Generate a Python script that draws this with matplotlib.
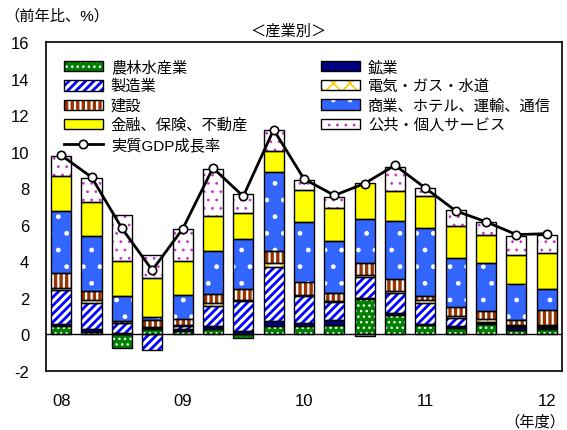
import matplotlib
matplotlib.use("Agg")
import matplotlib.pyplot as plt
import matplotlib.patches as mpatches
import matplotlib.lines as mlines
import numpy as np

plt.rcParams['font.family'] = ['Liberation Sans', 'Noto Sans CJK JP', 'DejaVu Sans']

# 四半期ごとの寄与度（08年度～12年度）
quarters = np.arange(17)
year_ticks = [0, 4, 8, 12, 16]
year_labels = ["08", "09", "10", "11", "12"]

agri    = [0.45, 0.10, -0.75, 0.30, 0.15, 0.30, -0.20, 0.45, 0.45, 0.50, 1.90, 1.05, 0.50, 0.35, 0.55, 0.20, 0.30]
mining  = [0.12, 0.15, 0.08, 0.05, 0.15, 0.15, 0.15, 0.25, 0.18, 0.25, 0.07, 0.08, 0.07, 0.08, 0.08, 0.20, 0.08]
manuf   = [1.85, 1.45, 0.50, -0.85, 0.12, 1.10, 1.65, 3.00, 1.45, 1.00, 1.15, 1.12, 1.13, 0.47, 0.05, 0.03, 0.05]
utility = [0.10, 0.15, 0.05, 0.05, 0.05, 0.15, 0.07, 0.20, 0.05, 0.05, 0.10, 0.12, 0.15, 0.10, 0.15, 0.05, 0.05]
constr  = [0.85, 0.50, 0.10, 0.38, 0.35, 0.50, 0.60, 0.63, 0.70, 0.45, 0.67, 0.64, 0.25, 0.50, 0.45, 0.30, 0.86]
trade   = [3.40, 3.00, 1.35, 0.18, 1.30, 2.33, 2.72, 4.37, 3.33, 2.86, 2.41, 3.18, 3.73, 2.64, 2.61, 1.95, 1.14]
finance = [1.90, 1.90, 1.90, 2.10, 1.90, 1.92, 1.46, 1.13, 1.73, 1.78, 2.00, 1.64, 1.74, 1.77, 1.54, 1.60, 1.95]
public  = [1.10, 1.30, 2.55, 1.25, 1.72, 2.60, 1.00, 1.15, 0.55, 0.64, -0.10, 1.31, 0.41, 0.87, 0.73, 1.04, 1.00]
gdp     = [9.80, 8.60, 5.80, 3.50, 5.75, 9.10, 7.55, 11.20, 8.50, 7.60, 8.25, 9.25, 8.00, 6.75, 6.15, 5.45, 5.50]

# 系列: (名称, 値, 塗り色, ハッチ, ハッチ色, ハッチ線幅)
series = [
    ("農林水産業", agri, "#008000", "...", "white", 1.0),
    ("鉱業", mining, "#000080", None, "#000080", 1.0),
    ("製造業", manuf, "white", "////", "#0000FF", 2.0),
    ("電気・ガス・水道", utility, "white", "xx", "#FFCC00", 1.2),
    ("建設", constr, "#993300", "|||", "white", 1.6),
    ("商業、ホテル、運輸、通信", trade, "#3366FF", ".", "white", 1.0),
    ("金融、保険、不動産", finance, "#FFFF00", None, "#FFFF00", 1.0),
    ("公共・個人サービス", public, "white", "..", "#CC33CC", 0.8),
]


class BoxHandler:
    """凡例の枠付きハッチ見本"""
    def __init__(self, face, hcol, hatch, hlw):
        self.face, self.hcol, self.hatch, self.hlw = face, hcol, hatch, hlw

    def legend_artist(self, legend, orig_handle, fontsize, handlebox):
        x0, y0 = handlebox.xdescent, handlebox.ydescent
        w, h = handlebox.width, handlebox.height
        tr = handlebox.get_transform()
        fill = mpatches.Rectangle((x0, y0), w, h, facecolor=self.face, edgecolor=self.hcol,
                                  hatch=self.hatch, linewidth=0, transform=tr)
        fill.set_hatch_linewidth(self.hlw)
        border = mpatches.Rectangle((x0, y0), w, h, facecolor="none", edgecolor="black",
                                    linewidth=1.0, transform=tr)
        handlebox.add_artist(fill)
        handlebox.add_artist(border)
        return fill


fig = plt.figure(figsize=(5.67, 4.31), dpi=100)
ax = fig.add_axes([0.0811, 0.138, 0.910, 0.762])

width = 0.66
pos = np.zeros(len(quarters))
neg = np.zeros(len(quarters))
handles = {}
handler_map = {}
for name, vals, face, hatch, hcol, hlw in series:
    h = np.array(vals)
    bottom = np.where(h >= 0, pos, neg)
    bars = ax.bar(quarters, h, width, bottom=bottom, color=face, edgecolor=hcol,
                  hatch=hatch, linewidth=0, zorder=2)
    for p in bars:
        p.set_hatch_linewidth(hlw)
    ax.bar(quarters, h, width, bottom=bottom, fill=False, edgecolor="black",
           linewidth=1.0, zorder=3)
    proxy = mpatches.Patch(facecolor=face)
    handles[name] = proxy
    handler_map[proxy] = BoxHandler(face, hcol, hatch, hlw)
    pos += np.clip(h, 0, None)
    neg += np.clip(h, None, 0)

ax.axhline(0, color="black", linewidth=1.0, zorder=4)
ax.plot(quarters, gdp, color="black", linewidth=2.0, marker="o", markersize=6,
        markerfacecolor="white", markeredgecolor="black", markeredgewidth=1.2, zorder=5)
gdp_handle = mlines.Line2D([], [], color="black", linewidth=2.0, marker="o", markersize=6,
                           markerfacecolor="white", markeredgecolor="black", markeredgewidth=1.2)

order = ["農林水産業", "製造業", "建設", "金融、保険、不動産", None,
         "鉱業", "電気・ガス・水道", "商業、ホテル、運輸、通信", "公共・個人サービス"]
leg_handles = [handles[n] if n else gdp_handle for n in order]
leg_labels = [n if n else "実質GDP成長率" for n in order]
ax.legend(leg_handles, leg_labels, ncol=2, loc="upper left", bbox_to_anchor=(0.034, 0.948),
          frameon=False, fontsize=11, handlelength=2.6, handleheight=0.65,
          labelspacing=0.33, columnspacing=4.75, handletextpad=0.5, borderpad=0.0,
          borderaxespad=0, handler_map=handler_map)

ax.set_xlim(-0.5, 16.5)
ax.set_ylim(-2, 16)
ax.set_yticks(np.arange(-2, 17, 2))
ax.set_yticklabels([str(v) for v in range(-2, 17, 2)], fontsize=12)
ax.set_xticks(year_ticks)
ax.set_xticklabels(year_labels, fontsize=12)
ax.tick_params(axis="both", length=0)
ax.tick_params(axis="y", pad=12)
ax.tick_params(axis="x", pad=16)
for sp in ax.spines.values():
    sp.set_linewidth(1.2)

fig.text(0.008, 0.962, "（前年比、%）", fontsize=11, ha="left", va="center")
fig.text(0.508, 0.927, "＜産業別＞", fontsize=11, ha="center", va="center")
fig.text(0.998, 0.003, "（年度）", fontsize=11, ha="right", va="bottom")

fig.savefig("out.png", dpi=100)
